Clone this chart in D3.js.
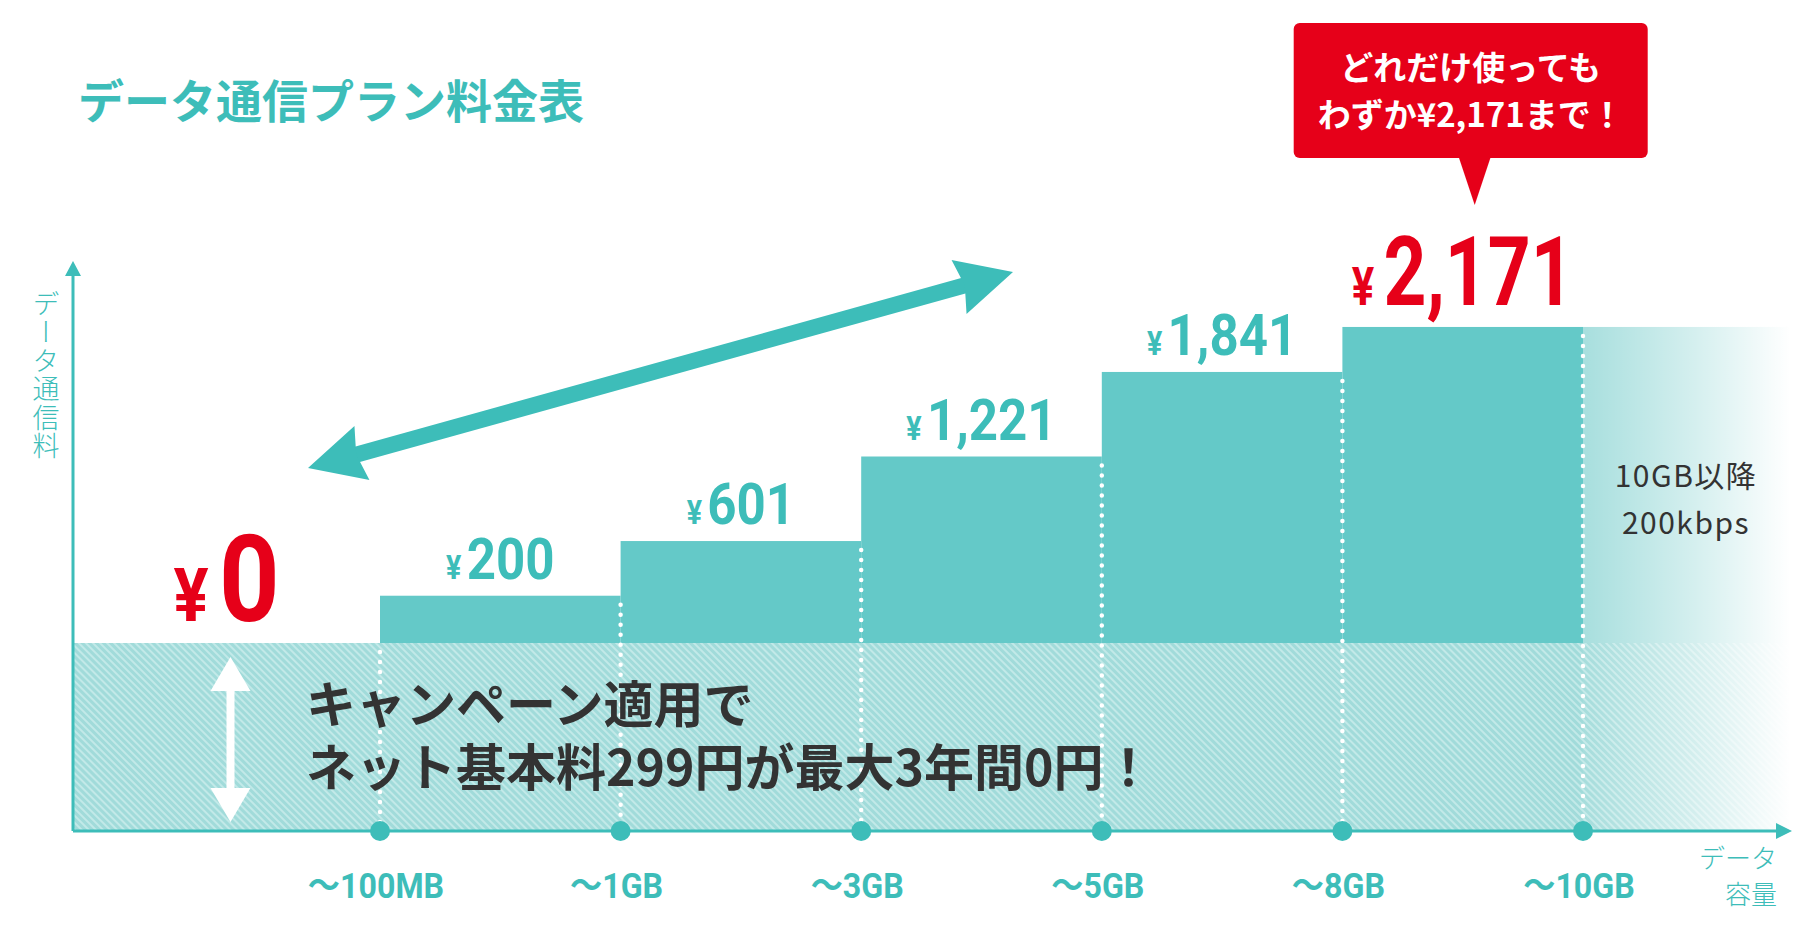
<!DOCTYPE html>
<html lang="ja">
<head>
<meta charset="utf-8" />
<title>データ通信プラン料金表</title>
<style>
  body { margin: 0; background: #fff; }
  svg { display: block; }
</style>
</head>
<body>
<div id="chart"></div>
<script src="https://cdn.jsdelivr.net/npm/d3@7"></script>
<script>
// --- data ---
const tiers = ["〜100MB", "〜1GB", "〜3GB", "〜5GB", "〜8GB", "〜10GB"];
const prices = [0, 200, 601, 1221, 1841, 2171];
const titleText = "データ通信プラン料金表";
const bubbleLines = ["どれだけ使っても", "わずか¥2,171まで！"];
const campaignLines = ["キャンペーン適用で", "ネット基本料299円が最大3年間0円！"];
const throttleLines = ["10GB以降", "200kbps"];
const yLabel = "データ通信料";
const xLabelLines = ["データ", "容量"];

const width = 1800, height = 940;
const teal = "#3dbdb9", barFill = "#64c9c8", red = "#e60019", ink = "#333";
const jp = "'Noto Sans CJK JP', sans-serif";
const num = "Roboto, 'Noto Sans CJK JP', sans-serif";

const origin = { x: 73, y: 831 };
const baseTop = 643;     // top of the hatched "base fee" band
const fadeEnd = 1790;

const x = d3.scalePoint().domain(tiers).range([380, 1583]);
const y = d3.scaleLinear().domain([0, 2200]).range([623, 323]);
const yen = d3.format(",");

const segs = tiers.map((t, i) => ({
  tier: t,
  price: prices[i],
  x0: i === 0 ? origin.x : x(tiers[i - 1]),
  x1: x(t),
  big: i === 0 || i === tiers.length - 1
}));

const svg = d3.select("#chart").append("svg")
  .attr("width", width).attr("height", height);

const defs = svg.append("defs");
const hatch = defs.append("pattern").attr("id", "hatch")
  .attr("patternUnits", "userSpaceOnUse")
  .attr("width", 5).attr("height", 5)
  .attr("patternTransform", "rotate(-45)");
hatch.append("rect").attr("width", 5).attr("height", 5).attr("fill", "#a1dbda");
hatch.append("rect").attr("width", 2).attr("height", 5).attr("fill", "#c2e9e8");

const fade = defs.append("linearGradient").attr("id", "fade")
  .attr("gradientUnits", "userSpaceOnUse")
  .attr("x1", x(tiers[tiers.length - 1])).attr("x2", fadeEnd)
  .attr("y1", 0).attr("y2", 0);
fade.append("stop").attr("offset", 0).attr("stop-color", "#fff").attr("stop-opacity", 0.05);
fade.append("stop").attr("offset", 0.55).attr("stop-color", "#fff").attr("stop-opacity", 0.55);
fade.append("stop").attr("offset", 1).attr("stop-color", "#fff").attr("stop-opacity", 1);

// title
svg.append("text")
  .attr("x", 78).attr("y", 118)
  .attr("font-family", jp).attr("font-weight", 700).attr("font-size", 46)
  .attr("fill", teal)
  .text(titleText);

// base band
svg.append("rect")
  .attr("x", origin.x).attr("y", baseTop)
  .attr("width", fadeEnd - origin.x).attr("height", origin.y - baseTop)
  .attr("fill", "url(#hatch)");

// step bars
svg.selectAll(".bar")
  .data(segs.filter(d => d.price > 0))
  .enter().append("rect")
  .attr("class", "bar")
  .attr("x", d => d.x0).attr("width", d => d.x1 - d.x0)
  .attr("y", d => y(d.price)).attr("height", d => baseTop - y(d.price))
  .attr("fill", barFill);

// continuation past 10GB, fading out
const last = segs[segs.length - 1];
svg.append("rect")
  .attr("x", last.x1).attr("width", fadeEnd - last.x1)
  .attr("y", y(last.price)).attr("height", baseTop - y(last.price))
  .attr("fill", "#a3dddc");
svg.append("rect")
  .attr("x", last.x1).attr("width", fadeEnd - last.x1 + 12)
  .attr("y", y(last.price) - 2).attr("height", origin.y - y(last.price) + 2)
  .attr("fill", "url(#fade)");

// dotted separators
svg.selectAll(".sep")
  .data(segs)
  .enter().append("line")
  .attr("x1", d => d.x1).attr("x2", d => d.x1)
  .attr("y1", d => (d.price === 0 ? baseTop : y(d.price)) + 9)
  .attr("y2", origin.y - 8)
  .attr("stroke", "#fff").attr("stroke-width", 4.5)
  .attr("stroke-linecap", "round").attr("stroke-dasharray", "0,10");

// axes
svg.append("line")
  .attr("x1", origin.x).attr("x2", 1780)
  .attr("y1", origin.y).attr("y2", origin.y)
  .attr("stroke", teal).attr("stroke-width", 3);
svg.append("path")
  .attr("d", `M1792,${origin.y} L1776,${origin.y - 8} L1776,${origin.y + 8} Z`)
  .attr("fill", teal);
svg.append("line")
  .attr("x1", origin.x).attr("x2", origin.x)
  .attr("y1", origin.y).attr("y2", 272)
  .attr("stroke", teal).attr("stroke-width", 3);
svg.append("path")
  .attr("d", `M${origin.x},261 L${origin.x - 8},276 L${origin.x + 8},276 Z`)
  .attr("fill", teal);

// tick dots + labels
svg.selectAll(".dot")
  .data(tiers)
  .enter().append("circle")
  .attr("cx", d => x(d)).attr("cy", origin.y).attr("r", 10)
  .attr("fill", teal);
svg.selectAll(".tick")
  .data(tiers)
  .enter().append("g")
  .attr("transform", d => `translate(${x(d) - 4},898) scale(0.92,1)`)
  .append("text")
  .attr("text-anchor", "middle")
  .attr("font-family", num).attr("font-weight", 700).attr("font-size", 35)
  .attr("fill", teal)
  .text(d => d);

// axis titles
svg.append("text")
  .attr("x", 46).attr("y", 290)
  .style("writing-mode", "vertical-rl")
  .style("text-orientation", "upright")
  .attr("font-family", jp).attr("font-weight", 300).attr("font-size", 27)
  .attr("letter-spacing", 1.5)
  .attr("fill", teal)
  .text(yLabel);
svg.append("text")
  .attr("font-family", jp).attr("font-weight", 300).attr("font-size", 26)
  .attr("fill", teal).attr("text-anchor", "end")
  .selectAll("tspan").data(xLabelLines).enter().append("tspan")
  .attr("x", 1777).attr("y", (d, i) => 868 + i * 36)
  .text(d => d);

// price labels (condensed numerals)
const lab = svg.selectAll(".price")
  .data(segs)
  .enter().append("g")
  .attr("transform", d => {
    const cx = (d.x0 + d.x1) / 2;
    const by = (d.price === 0 ? baseTop : y(d.price)) - (d.big ? 22 : 17);
    const sx = d.big && d.price > 0 ? 0.78 : 0.88;
    return `translate(${cx},${by}) scale(${sx},1)`;
  })
  .append("text")
  .attr("text-anchor", "middle")
  .attr("font-family", num).attr("font-weight", 700)
  .attr("font-size", d => d.price === 0 ? 120 : d.big ? 96 : 58)
  .attr("fill", d => d.big ? red : teal);
lab.append("tspan").attr("font-size", d => d.price === 0 ? "0.62em" : "0.56em").text("¥");
lab.append("tspan").attr("dx", d => d.big ? 12 : 6).text(d => yen(d.price));

// diagonal double arrow
const a0 = [308, 468], a1 = [1013, 272];
const aLen = Math.hypot(a1[0] - a0[0], a1[1] - a0[1]);
const aAng = Math.atan2(a1[1] - a0[1], a1[0] - a0[0]) * 180 / Math.PI;
const arrow = svg.append("g")
  .attr("transform", `translate(${a0[0]},${a0[1]}) rotate(${aAng})`)
  .attr("fill", teal);
const hl = 52, hw = 28;
arrow.append("rect").attr("x", hl - 6).attr("y", -8).attr("width", aLen - 2 * hl + 12).attr("height", 16);
arrow.append("path").attr("d", `M0,0 L${hl + 4},${-hw} L${hl - 2},0 L${hl + 4},${hw} Z`);
arrow.append("path").attr("d", `M${aLen},0 L${aLen - hl - 4},${-hw} L${aLen - hl + 2},0 L${aLen - hl - 4},${hw} Z`);

// vertical white double arrow inside base band
const vx = (segs[0].x0 + segs[0].x1) / 2 + 4;
const v0 = 657, v1 = 822;
svg.append("path")
  .attr("d", `M${vx},${v0} L${vx + 20},${v0 + 34} L${vx + 4},${v0 + 34} L${vx + 4},${v1 - 34} L${vx + 20},${v1 - 34} L${vx},${v1} L${vx - 20},${v1 - 34} L${vx - 4},${v1 - 34} L${vx - 4},${v0 + 34} L${vx - 20},${v0 + 34} Z`)
  .attr("fill", "#fff");

// campaign text
svg.append("text")
  .attr("font-family", jp).attr("font-weight", 700).attr("font-size", 50)
  .attr("fill", ink)
  .selectAll("tspan").data(campaignLines).enter().append("tspan")
  .attr("x", 306).attr("y", (d, i) => 723 + i * 63)
  .text(d => d);

// throttle note
svg.append("text")
  .attr("font-family", jp).attr("font-weight", 400).attr("font-size", 30)
  .attr("fill", ink).attr("text-anchor", "middle").attr("letter-spacing", 1.5)
  .selectAll("tspan").data(throttleLines).enter().append("tspan")
  .attr("x", 1686).attr("y", (d, i) => 487 + i * 47)
  .text(d => d);

// speech bubble
const bx = (last.x0 + last.x1) / 2 + 8;
const bub = svg.append("g");
bub.append("rect")
  .attr("x", bx - 177).attr("y", 23).attr("width", 354).attr("height", 135)
  .attr("rx", 6).attr("fill", red);
bub.append("path")
  .attr("d", `M${bx - 12},157 L${bx + 20},157 L${bx + 4},205 Z`)
  .attr("fill", red);
bub.append("text")
  .attr("font-family", jp).attr("font-weight", 700).attr("font-size", 33)
  .attr("fill", "#fff").attr("text-anchor", "middle")
  .selectAll("tspan").data(bubbleLines).enter().append("tspan")
  .attr("x", bx).attr("y", (d, i) => 80 + i * 47)
  .text(d => d);
</script>
</body>
</html>
